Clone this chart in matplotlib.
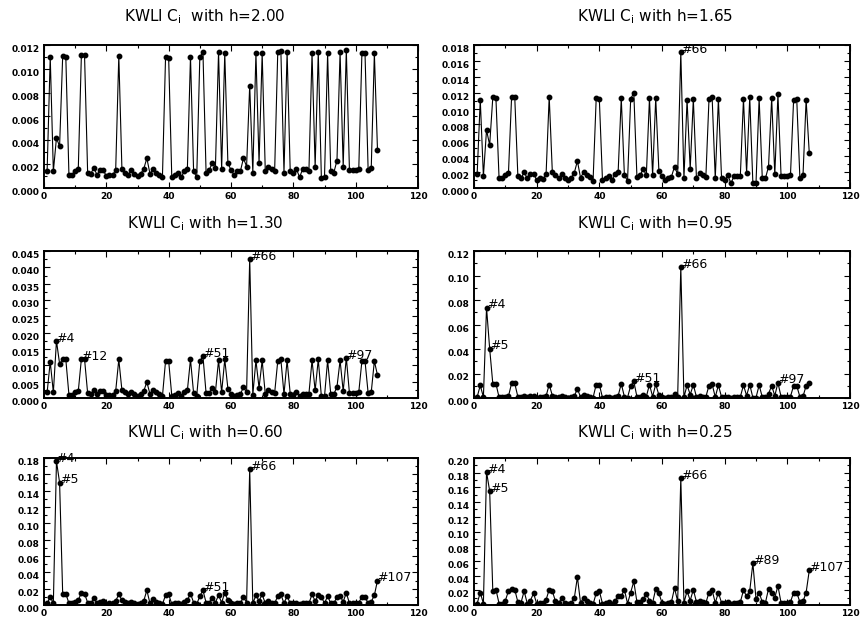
import matplotlib
matplotlib.use("Agg")
import matplotlib.pyplot as plt
from matplotlib.ticker import MultipleLocator, FormatStrFormatter
import numpy as np

# KWLI C_i values for observations 1..107, one list per bandwidth h
ci_h200 = [
    0.0014, 0.0110, 0.0014, 0.0042, 0.0035, 0.0111, 0.0110, 0.0011, 0.0011, 0.0014,
    0.0016, 0.0112, 0.0112, 0.0013, 0.0012, 0.0017, 0.0011, 0.0015, 0.0015, 0.0010,
    0.0011, 0.0011, 0.0015, 0.0111, 0.0016, 0.0013, 0.0011, 0.0015, 0.0012, 0.0010,
    0.0012, 0.0016, 0.0025, 0.0012, 0.0016, 0.0013, 0.0011, 0.0009, 0.0110, 0.0109,
    0.0009, 0.0011, 0.0013, 0.0009, 0.0014, 0.0016, 0.0110, 0.0014, 0.0009, 0.0110,
    0.0114, 0.0013, 0.0015, 0.0021, 0.0017, 0.0114, 0.0016, 0.0113, 0.0021, 0.0015,
    0.0011, 0.0014, 0.0014, 0.0025, 0.0018, 0.0086, 0.0013, 0.0113, 0.0021, 0.0113,
    0.0014, 0.0018, 0.0016, 0.0014, 0.0114, 0.0115, 0.0013, 0.0114, 0.0014, 0.0013,
    0.0016, 0.0009, 0.0016, 0.0016, 0.0014, 0.0113, 0.0018, 0.0114, 0.0008, 0.0009,
    0.0113, 0.0014, 0.0013, 0.0023, 0.0114, 0.0018, 0.0116, 0.0015, 0.0015, 0.0015,
    0.0016, 0.0113, 0.0113, 0.0015, 0.0017, 0.0113, 0.0032,
]
ci_h165 = [
    0.0017, 0.0111, 0.0015, 0.0073, 0.0054, 0.0114, 0.0113, 0.0012, 0.0012, 0.0016,
    0.0019, 0.0115, 0.0115, 0.0015, 0.0012, 0.0020, 0.0012, 0.0017, 0.0018, 0.0010,
    0.0012, 0.0011, 0.0017, 0.0115, 0.0020, 0.0016, 0.0012, 0.0017, 0.0013, 0.0010,
    0.0013, 0.0019, 0.0034, 0.0013, 0.0020, 0.0016, 0.0014, 0.0009, 0.0113, 0.0112,
    0.0010, 0.0012, 0.0015, 0.0010, 0.0017, 0.0020, 0.0113, 0.0016, 0.0009, 0.0112,
    0.0120, 0.0014, 0.0016, 0.0024, 0.0016, 0.0113, 0.0016, 0.0113, 0.0022, 0.0015,
    0.0010, 0.0013, 0.0014, 0.0027, 0.0017, 0.0171, 0.0012, 0.0111, 0.0024, 0.0112,
    0.0012, 0.0019, 0.0016, 0.0014, 0.0112, 0.0114, 0.0012, 0.0112, 0.0013, 0.0010,
    0.0016, 0.0006, 0.0015, 0.0015, 0.0015, 0.0112, 0.0019, 0.0114, 0.0006, 0.0006,
    0.0113, 0.0013, 0.0012, 0.0027, 0.0113, 0.0017, 0.0118, 0.0015, 0.0015, 0.0015,
    0.0016, 0.0111, 0.0112, 0.0013, 0.0016, 0.0111, 0.0044,
]
ci_h130 = [
    0.0017, 0.0111, 0.0017, 0.0175, 0.0105, 0.0118, 0.0118, 0.0010, 0.0010, 0.0017,
    0.0021, 0.0120, 0.0120, 0.0015, 0.0012, 0.0024, 0.0012, 0.0021, 0.0021, 0.0008,
    0.0010, 0.0010, 0.0021, 0.0118, 0.0024, 0.0018, 0.0012, 0.0018, 0.0012, 0.0007,
    0.0012, 0.0021, 0.0049, 0.0012, 0.0026, 0.0018, 0.0012, 0.0005, 0.0113, 0.0113,
    0.0007, 0.0010, 0.0015, 0.0007, 0.0017, 0.0023, 0.0118, 0.0015, 0.0007, 0.0113,
    0.0128, 0.0015, 0.0015, 0.0031, 0.0018, 0.0115, 0.0018, 0.0118, 0.0029, 0.0013,
    0.0007, 0.0010, 0.0012, 0.0033, 0.0018, 0.0426, 0.0010, 0.0115, 0.0031, 0.0115,
    0.0012, 0.0023, 0.0018, 0.0015, 0.0113, 0.0118, 0.0012, 0.0115, 0.0013, 0.0010,
    0.0018, 0.0005, 0.0013, 0.0013, 0.0013, 0.0115, 0.0023, 0.0118, 0.0005, 0.0005,
    0.0115, 0.0013, 0.0012, 0.0034, 0.0115, 0.0021, 0.0123, 0.0015, 0.0015, 0.0015,
    0.0018, 0.0113, 0.0113, 0.0015, 0.0018, 0.0113, 0.0070,
]
ci_h095 = [
    0.0008, 0.0103, 0.0008, 0.0737, 0.0403, 0.0117, 0.0117, 0.0005, 0.0005, 0.0010,
    0.0015, 0.0120, 0.0120, 0.0010, 0.0007, 0.0020, 0.0007, 0.0015, 0.0015, 0.0004,
    0.0005, 0.0005, 0.0015, 0.0110, 0.0020, 0.0012, 0.0007, 0.0013, 0.0007, 0.0004,
    0.0008, 0.0015, 0.0075, 0.0008, 0.0022, 0.0013, 0.0008, 0.0003, 0.0110, 0.0110,
    0.0004, 0.0006, 0.0010, 0.0004, 0.0012, 0.0018, 0.0117, 0.0010, 0.0004, 0.0100,
    0.0136, 0.0010, 0.0010, 0.0028, 0.0012, 0.0110, 0.0012, 0.0112, 0.0025, 0.0008,
    0.0004, 0.0006, 0.0008, 0.0030, 0.0012, 0.1070, 0.0006, 0.0105, 0.0028, 0.0108,
    0.0008, 0.0020, 0.0012, 0.0010, 0.0102, 0.0112, 0.0008, 0.0105, 0.0008, 0.0006,
    0.0012, 0.0003, 0.0008, 0.0008, 0.0009, 0.0105, 0.0020, 0.0110, 0.0003, 0.0003,
    0.0105, 0.0008, 0.0007, 0.0035, 0.0100, 0.0018, 0.0125, 0.0010, 0.0010, 0.0010,
    0.0012, 0.0100, 0.0100, 0.0010, 0.0013, 0.0100, 0.0120,
]
ci_h060 = [
    0.002, 0.010, 0.002, 0.176, 0.150, 0.013, 0.014, 0.002, 0.002, 0.004,
    0.006, 0.015, 0.014, 0.003, 0.002, 0.008, 0.002, 0.004, 0.005, 0.001,
    0.002, 0.002, 0.005, 0.013, 0.006, 0.004, 0.002, 0.004, 0.002, 0.001,
    0.002, 0.005, 0.018, 0.002, 0.007, 0.004, 0.003, 0.001, 0.012, 0.013,
    0.001, 0.002, 0.003, 0.001, 0.004, 0.006, 0.014, 0.003, 0.001, 0.011,
    0.018, 0.003, 0.003, 0.009, 0.003, 0.012, 0.003, 0.015, 0.006, 0.002,
    0.001, 0.002, 0.002, 0.010, 0.003, 0.166, 0.002, 0.012, 0.005, 0.013,
    0.002, 0.005, 0.003, 0.002, 0.011, 0.013, 0.002, 0.011, 0.002, 0.002,
    0.003, 0.001, 0.002, 0.002, 0.002, 0.013, 0.005, 0.012, 0.010, 0.002,
    0.011, 0.002, 0.002, 0.010, 0.011, 0.004, 0.015, 0.002, 0.002, 0.002,
    0.003, 0.010, 0.010, 0.002, 0.004, 0.012, 0.030,
]
ci_h025 = [
    0.002, 0.017, 0.002, 0.181, 0.155, 0.019, 0.021, 0.002, 0.002, 0.006,
    0.019, 0.022, 0.021, 0.004, 0.003, 0.019, 0.002, 0.006, 0.016, 0.002,
    0.003, 0.003, 0.007, 0.021, 0.019, 0.005, 0.003, 0.009, 0.003, 0.001,
    0.003, 0.009, 0.038, 0.003, 0.010, 0.005, 0.003, 0.001, 0.016, 0.019,
    0.002, 0.003, 0.004, 0.002, 0.006, 0.012, 0.012, 0.021, 0.002, 0.017,
    0.032, 0.004, 0.004, 0.008, 0.015, 0.006, 0.003, 0.022, 0.016, 0.003,
    0.002, 0.003, 0.004, 0.023, 0.005, 0.173, 0.003, 0.019, 0.006, 0.021,
    0.004, 0.006, 0.004, 0.003, 0.017, 0.020, 0.003, 0.017, 0.003, 0.003,
    0.004, 0.002, 0.003, 0.003, 0.004, 0.020, 0.012, 0.019, 0.057, 0.008,
    0.017, 0.004, 0.003, 0.022, 0.017, 0.010, 0.026, 0.003, 0.003, 0.003,
    0.004, 0.017, 0.017, 0.004, 0.005, 0.017, 0.047,
]

h_labels = ["2.00", "1.65", "1.30", "0.95", "0.60", "0.25"]
series = [ci_h200, ci_h165, ci_h130, ci_h095, ci_h060, ci_h025]
y_tops = [0.012, 0.018, 0.045, 0.12, 0.18, 0.20]
y_steps = [0.002, 0.002, 0.005, 0.02, 0.02, 0.02]
y_fmts = ["%.3f", "%.3f", "%.3f", "%.2f", "%.2f", "%.2f"]
flagged = [[], [66], [4, 12, 51, 66, 97], [4, 5, 51, 66, 97], [4, 5, 51, 66, 107], [4, 5, 66, 89, 107]]
# mathtext already leaves a gap after the subscript
title_gap = [" ", "", "", "", "", ""]

W, H = 860, 618
fig = plt.figure(figsize=(W / 100, H / 100), dpi=100)

# axes boxes in pixels (left, right, top, bottom)
cols = [(44, 418), (474, 850)]
rows = [(45, 188), (251, 398), (458, 605)]
title_x = [205, 655]
title_y = [17, 224, 433]

obs = np.arange(1, 108)

for k, (ci, h) in enumerate(zip(series, h_labels)):
    r, c = divmod(k, 2)
    x0, x1 = cols[c]
    yt, yb = rows[r]
    ax = fig.add_axes([x0 / W, 1 - yb / H, (x1 - x0) / W, (yb - yt) / H])
    ax.plot(obs, ci, color="black", lw=0.8, marker="o", ms=3.2, mfc="black", mec="black")
    ax.set_xlim(0, 120)
    ax.set_ylim(0, y_tops[k])
    ax.xaxis.set_major_locator(MultipleLocator(20))
    ax.xaxis.set_minor_locator(MultipleLocator(10))
    ax.yaxis.set_major_locator(MultipleLocator(y_steps[k]))
    ax.yaxis.set_minor_locator(MultipleLocator(y_steps[k] / 2))
    ax.yaxis.set_major_formatter(FormatStrFormatter(y_fmts[k]))
    ax.tick_params(which="both", direction="in", top=True, right=True, width=0.8)
    ax.tick_params(which="major", length=4, labelsize=6.5, pad=3)
    ax.tick_params(which="minor", length=2)
    for lab in ax.get_xticklabels() + ax.get_yticklabels():
        lab.set_fontweight("bold")
    for lab in ax.get_yticklabels():
        lab.set_verticalalignment("top")
    for sp in ax.spines.values():
        sp.set_linewidth(1.4)
    for n in flagged[k]:
        ax.annotate("#%d" % n, (n, ci[n - 1]), xytext=(0, 2), textcoords="offset points",
                    ha="left", va="center", fontsize=9)
    fig.text(title_x[c] / W, 1 - title_y[r] / H,
             "KWLI C$_\\mathregular{i}$" + title_gap[k] + " with h=" + h,
             ha="center", va="center", fontsize=11)

fig.savefig("out.png", dpi=100)
